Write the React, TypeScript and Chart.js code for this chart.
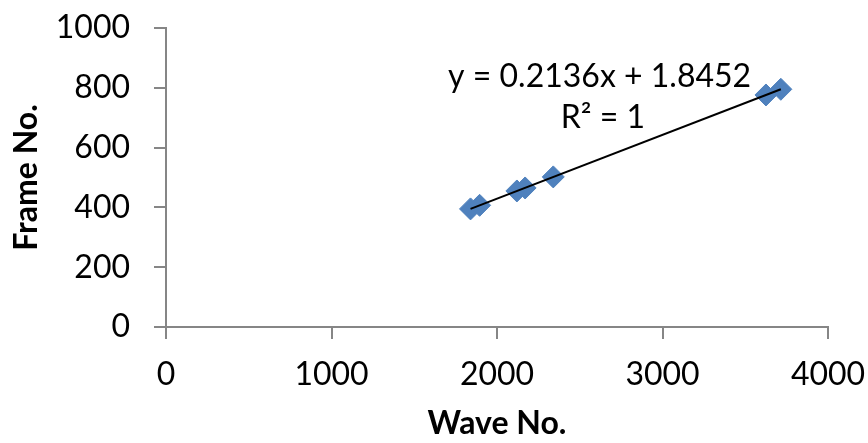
import React, { useEffect, useRef } from "react";
import { Chart, registerables } from "chart.js";

Chart.register(...registerables);

const waveNo = [1840, 1895, 2120, 2170, 2340, 3625, 3715];
const frameNo = [395, 407, 455, 465, 502, 776, 795];
const xTicks = [0, 1000, 2000, 3000, 4000];
const yTicks = [0, 200, 400, 600, 800, 1000];
const equationText = "y = 0.2136x + 1.8452";
const r2Text = "R² = 1";
const xTitle = "Wave No.";
const yTitle = "Frame No.";

const FONT = "Lato, 'Open Sans', sans-serif";
const AXIS = "#868686";
const MARK = "#4F81BD";

function regression(xs: number[], ys: number[]) {
  const n = xs.length;
  const mx = xs.reduce((a, b) => a + b, 0) / n;
  const my = ys.reduce((a, b) => a + b, 0) / n;
  let sxy = 0, sxx = 0;
  for (let i = 0; i < n; i++) {
    sxy += (xs[i] - mx) * (ys[i] - my);
    sxx += (xs[i] - mx) * (xs[i] - mx);
  }
  const m = sxy / sxx;
  return { m, b: my - m * mx };
}

export default function App() {
  const ref = useRef<HTMLCanvasElement>(null);
  useEffect(() => {
    const { m, b } = regression(waveNo, frameNo);
    const xmin = Math.min(...waveNo);
    const xmax = Math.max(...waveNo);
    const trend = [
      { x: xmin, y: m * xmin + b },
      { x: xmax, y: m * xmax + b },
    ];
    const points = waveNo.map((x, i) => ({ x, y: frameNo[i] }));

    const labelPlugin = {
      id: "eqLabel",
      afterDatasetsDraw(chart: any) {
        const { ctx, scales } = chart;
        const cx = scales.x.getPixelForValue(2620);
        const y1 = scales.y.getPixelForValue(836);
        const y2 = scales.y.getPixelForValue(699);
        ctx.save();
        ctx.fillStyle = "#000";
        ctx.font = `32px ${FONT}`;
        ctx.textAlign = "center";
        ctx.textBaseline = "middle";
        ctx.fillText(equationText, cx, y1);
        ctx.fillText(r2Text, scales.x.getPixelForValue(2640), y2);
        ctx.restore();
      },
    };

    const chart = new Chart(ref.current!, {
      type: "scatter",
      data: {
        datasets: [
          {
            type: "line",
            data: trend,
            borderColor: "#000",
            borderWidth: 2,
            pointRadius: 0,
            fill: false,
            order: 0,
          } as any,
          {
            data: points,
            pointStyle: "rectRot",
            pointRadius: 11,
            backgroundColor: MARK,
            borderColor: MARK,
            borderWidth: 1,
            order: 1,
          },
        ],
      },
      options: {
        animation: false,
        responsive: false,
        layout: { padding: { top: 28, right: 40, left: 0, bottom: 0 } },
        plugins: { legend: { display: false }, tooltip: { enabled: false } },
        scales: {
          x: {
            type: "linear",
            min: 0,
            max: 4000,
            afterBuildTicks: (s: any) => {
              s.ticks = xTicks.map((v) => ({ value: v }));
            },
            afterFit: (s: any) => {
              s.height = 116;
              s.paddingLeft = 0;
              s.paddingRight = 0;
            },
            grid: {
              display: true,
              drawOnChartArea: false,
              drawTicks: true,
              tickLength: 12,
              color: AXIS,
              lineWidth: 2,
            },
            border: { display: true, color: AXIS, width: 2 },
            ticks: {
              color: "#000",
              font: { family: FONT, size: 32 },
              padding: 16,
              maxRotation: 0,
              callback: (v: any) => String(v),
            },
            title: {
              display: true,
              text: xTitle,
              color: "#000",
              font: { family: FONT, size: 32, weight: "bold" },
              padding: { top: 0, bottom: 0 },
            },
          },
          y: {
            type: "linear",
            min: 0,
            max: 1000,
            afterBuildTicks: (s: any) => {
              s.ticks = yTicks.map((v) => ({ value: v }));
            },
            afterFit: (s: any) => {
              s.width = 166;
              s.paddingTop = 0;
              s.paddingBottom = 0;
            },
            grid: {
              display: true,
              drawOnChartArea: false,
              drawTicks: true,
              tickLength: 12,
              color: AXIS,
              lineWidth: 2,
            },
            border: { display: true, color: AXIS, width: 2 },
            ticks: {
              color: "#000",
              font: { family: FONT, size: 32 },
              padding: 24,
              callback: (v: any) => String(v),
            },
            title: {
              display: true,
              text: yTitle,
              color: "#000",
              font: { family: FONT, size: 32, weight: "bold" },
              padding: { top: 7, bottom: 0 },
            },
          },
        },
      },
      plugins: [labelPlugin],
    });
    return () => chart.destroy();
  }, []);

  return (
    <div style={{ position: "fixed", left: 0, top: 0, width: 868, height: 443, background: "#fff" }}>
      <canvas ref={ref} width={868} height={443} style={{ display: "block" }} />
    </div>
  );
}
